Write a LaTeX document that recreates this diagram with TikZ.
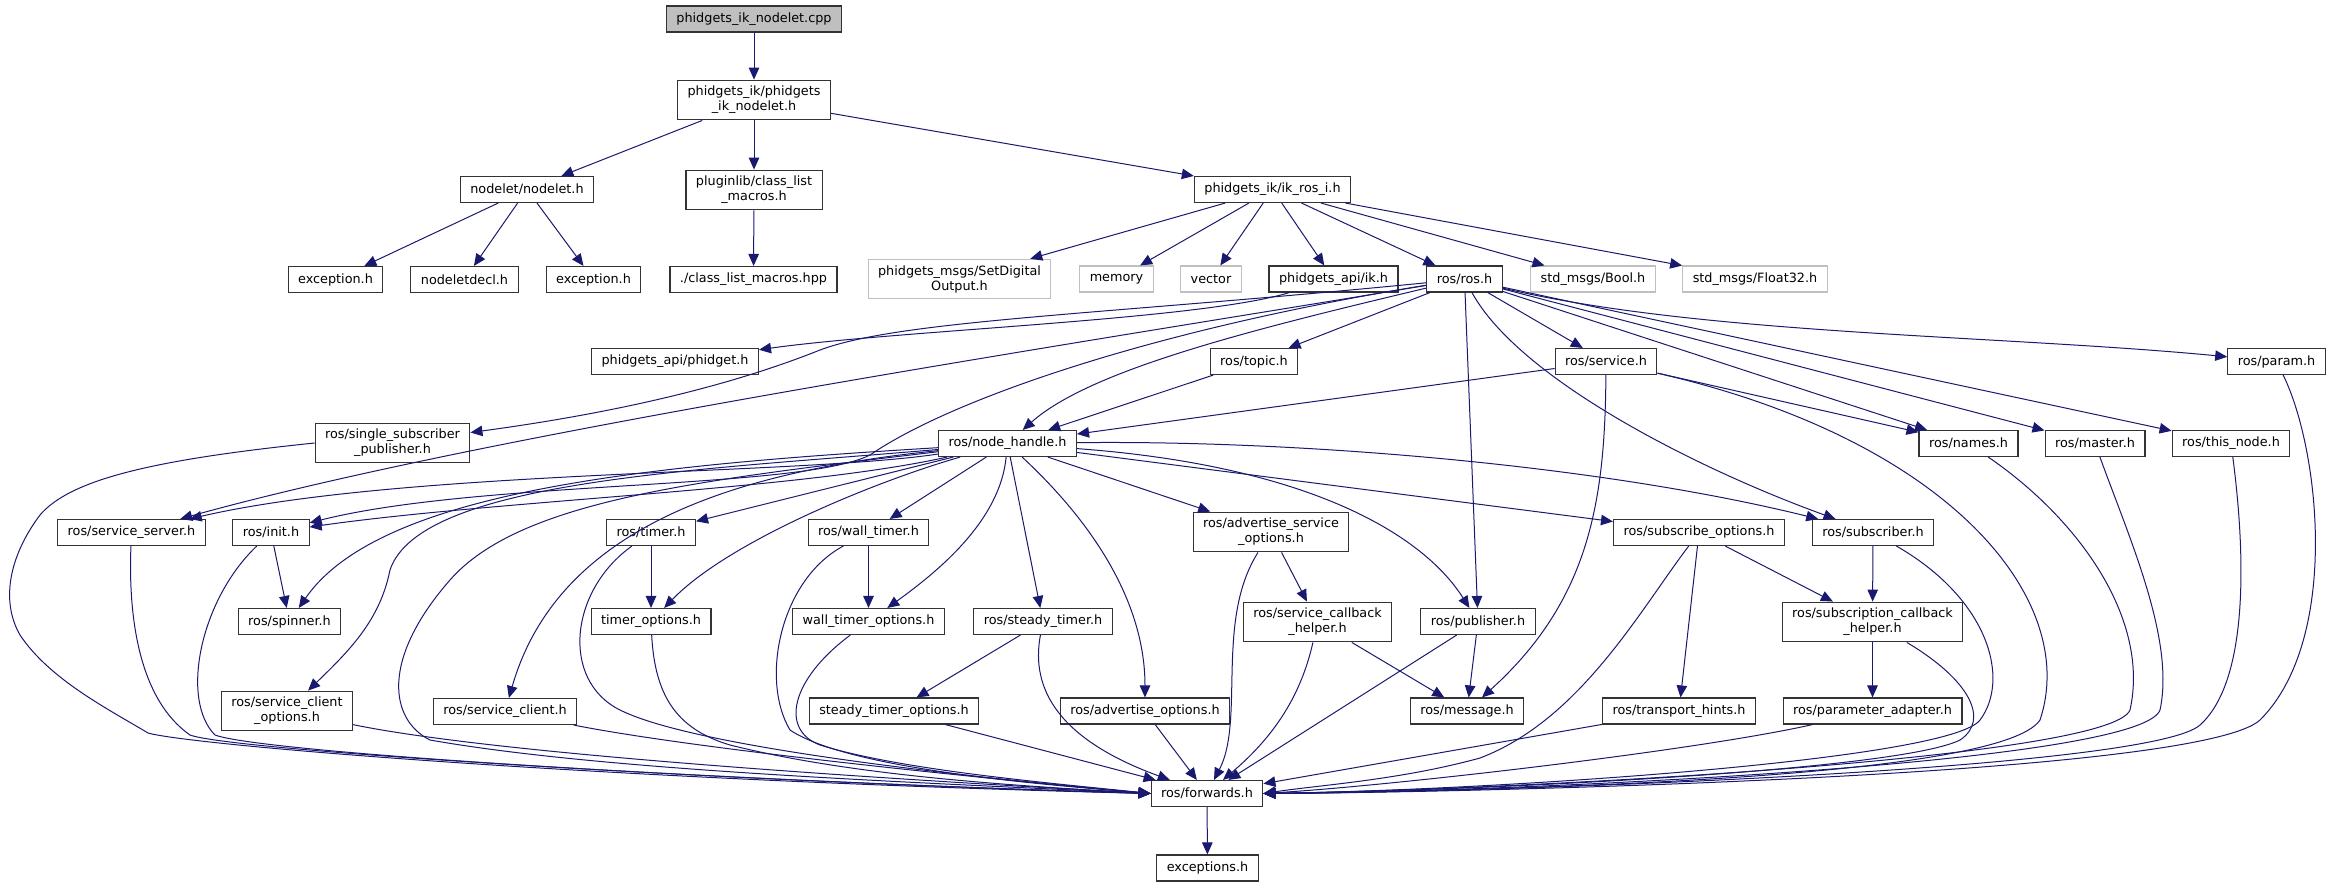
\documentclass[tikz,border=0pt]{standalone}
\usepackage{fontspec}
\setmainfont{DejaVu Sans}
\usepackage{tikz}
\usetikzlibrary{shapes,arrows.meta,positioning}
\definecolor{edgeblue}{HTML}{191970}
\definecolor{extgray}{HTML}{BFBFBF}
\newcommand{\hdrfont}{\fontsize{12.8}{15}\selectfont}
\tikzstyle{hdr}=[draw=black!80,line width=1.1pt,fill=white,font=\hdrfont,minimum height=26pt,inner xsep=10pt,inner ysep=6pt,align=center]
\tikzstyle{ext}=[hdr,draw=extgray]
\tikzstyle{root}=[hdr,fill=extgray]
\tikzstyle{inc}=[->,draw=edgeblue,line width=1pt]

\begin{document}
\begin{tikzpicture}[x=1pt,y=-1pt,>={Triangle[length=12pt,width=10.5pt]}]
  \useasboundingbox (0,0) rectangle (2335,887);

  \node[root] (F-cpp) at (754,19) {phidgets\_ik\_nodelet.cpp};
  \foreach \name/\lbl/\x/\y in {
      nodeleth/{phidgets\_ik/phidgets\\\_ik\_nodelet.h}/754/100,
      nodelet/{nodelet/nodelet.h}/527/189.5,
      pluginlib/{pluginlib/class\_list\\\_macros.h}/754/190,
      ikros/{phidgets\_ik/ik\_ros\_i.h}/1272.5/189.5,
      exca/{exception.h}/335.5/279.5,
      decl/{nodeletdecl.h}/464.5/279.5,
      excb/{exception.h}/593.5/279.5,
      macros/{./class\_list\_macros.hpp}/753.5/279.5,
      ik/{phidgets\_api/ik.h}/1333.5/279,
      ros/{ros/ros.h}/1464.5/279,
      phidget/{phidgets\_api/phidget.h}/675/361.5,
      topic/{ros/topic.h}/1254/361.5,
      service/{ros/service.h}/1606/361.5,
      param/{ros/param.h}/2276.5/361.5,
      ssp/{ros/single\_subscriber\\\_publisher.h}/392.5/443,
      nh/{ros/node\_handle.h}/1007.5/443.5,
      names/{ros/names.h}/1968.5/443.5,
      master/{ros/master.h}/2095/443.5,
      thisnode/{ros/this\_node.h}/2231/443.5,
      sserver/{ros/service\_server.h}/131.5/532.5,
      init/{ros/init.h}/271/532.5,
      timer/{ros/timer.h}/651/532.5,
      wtimer/{ros/wall\_timer.h}/868.5/532.5,
      aso/{ros/advertise\_service\\\_options.h}/1271/532,
      subopt/{ros/subscribe\_options.h}/1699/532.5,
      subscriber/{ros/subscriber.h}/1873/532.5,
      spinner/{ros/spinner.h}/289.5/621.5,
      topt/{timer\_options.h}/651/621.5,
      wtopt/{wall\_timer\_options.h}/868.5/621.5,
      stimer/{ros/steady\_timer.h}/1043/621.5,
      sch/{ros/service\_callback\\\_helper.h}/1317.5/622,
      publisher/{ros/publisher.h}/1478/621.5,
      subcb/{ros/subscription\_callback\\\_helper.h}/1872.5/622,
      sco/{ros/service\_client\\\_options.h}/287/711,
      sclient/{ros/service\_client.h}/505/711.5,
      stopt/{steady\_timer\_options.h}/894/711,
      advopt/{ros/advertise\_options.h}/1145/711,
      message/{ros/message.h}/1467/711,
      thints/{ros/transport\_hints.h}/1679/711,
      padapt/{ros/parameter\_adapter.h}/1872.5/711,
      fwd/{ros/forwards.h}/1207/793.5,
      exceptions/{exceptions.h}/1207.5/868}
    \node[hdr] (F-\name) at (\x,\y) {\lbl};
  \foreach \name/\lbl/\x/\y in {
      setdig/{phidgets\_msgs/SetDigital\\Output.h}/959.5/279,
      memory/{memory}/1116.5/279,
      vector/{vector}/1211/279,
      bool/{std\_msgs/Bool.h}/1593/279,
      float/{std\_msgs/Float32.h}/1755/279}
    \node[ext] (F-\name) at (\x,\y) {\lbl};

  \draw[inc] (F-cpp) -- (F-nodeleth);
  \draw[inc] (F-nodeleth) -- (F-nodelet);
  \draw[inc] (F-nodeleth) -- (F-pluginlib);
  \draw[inc] (F-nodeleth) -- (F-ikros);
  \draw[inc] (F-nodelet) -- (F-exca);
  \draw[inc] (F-nodelet) -- (F-decl);
  \draw[inc] (F-nodelet) -- (F-excb);
  \draw[inc] (F-pluginlib) -- (F-macros);
  \foreach \t in {setdig,memory,vector,ik,ros,bool,float}
    \draw[inc] (F-ikros) -- (F-\t);
  \draw[inc] (F-ik) .. controls (1200,320) and (900,330) .. (F-phidget);

  \draw[inc] (F-ros) .. controls (1100,315) and (900,320) .. (820,350) .. controls (720,390) and (600,415) .. (F-ssp);
  \draw[inc] (F-ros) .. controls (1100,340) and (500,430) .. (F-sserver);
  \draw[inc] (F-ros) .. controls (1150,330) and (950,400) .. (870,455) .. controls (800,490) and (480,480) .. (F-init);
  \draw[inc] (F-ros) .. controls (1250,330) and (1090,370) .. (F-nh);
  \draw[inc] (F-ros) -- (F-topic);
  \draw[inc] (F-ros) -- (F-service);
  \draw[inc] (F-ros) -- (F-publisher);
  \draw[inc] (F-ros) .. controls (1520,380) and (1700,470) .. (F-subscriber);
  \draw[inc] (F-ros) -- (F-names);
  \draw[inc] (F-ros) -- (F-master);
  \draw[inc] (F-ros) -- (F-thisnode);
  \draw[inc] (F-ros) .. controls (1700,335) and (2000,335) .. (F-param);
  \draw[inc] (F-topic) -- (F-nh);
  \draw[inc] (F-service) -- (F-nh);
  \draw[inc] (F-service) -- (F-names);
  \draw[inc] (F-service) .. controls (1605,500) and (1590,600) .. (F-message);

  \draw[inc] (F-nh) .. controls (800,475) and (400,470) .. (F-sserver);
  \draw[inc] (F-nh) .. controls (800,490) and (500,500) .. (F-init);
  \draw[inc] (F-nh) .. controls (650,465) and (380,490) .. (F-spinner);
  \draw[inc] (F-nh) .. controls (700,470) and (420,480) .. (390,570) .. controls (380,620) and (350,650) .. (F-sco);
  \draw[inc] (F-nh) .. controls (750,470) and (560,520) .. (F-sclient);
  \draw[inc] (F-nh) -- (F-timer);
  \draw[inc] (F-nh) .. controls (880,480) and (730,540) .. (F-topt);
  \draw[inc] (F-nh) -- (F-wtimer);
  \draw[inc] (F-nh) .. controls (1000,520) and (940,570) .. (F-wtopt);
  \draw[inc] (F-nh) -- (F-stimer);
  \draw[inc] (F-nh) .. controls (1090,520) and (1145,600) .. (F-advopt);
  \draw[inc] (F-nh) -- (F-aso);
  \draw[inc] (F-nh) .. controls (1300,465) and (1420,530) .. (F-publisher);
  \draw[inc] (F-nh) -- (F-subopt);
  \draw[inc] (F-nh) .. controls (1300,440) and (1600,465) .. (F-subscriber);

  \draw[inc] (F-init) -- (F-spinner);
  \draw[inc] (F-timer) -- (F-topt);
  \draw[inc] (F-wtimer) -- (F-wtopt);
  \draw[inc] (F-stimer) -- (F-stopt);
  \draw[inc] (F-aso) -- (F-sch);
  \draw[inc] (F-sch) -- (F-message);
  \draw[inc] (F-publisher) -- (F-message);
  \draw[inc] (F-subopt) -- (F-thints);
  \draw[inc] (F-subopt) -- (F-subcb);
  \draw[inc] (F-subscriber) -- (F-subcb);
  \draw[inc] (F-subcb) -- (F-padapt);

  \draw[inc] (F-ssp.west) .. controls (150,460) and (70,480) .. (40,515) .. controls (10,555) and (0,600) .. (20,635) .. controls (50,680) and (110,710) .. (148,733) .. controls (190,745) and (600,780) .. (F-fwd.west);
  \draw[inc] (F-sserver) .. controls (128,620) and (140,700) .. (190,735) .. controls (230,750) and (700,780) .. (F-fwd.west);
  \draw[inc] (F-init) .. controls (200,600) and (180,700) .. (215,735) .. controls (260,752) and (700,780) .. (F-fwd.west);
  \draw[inc] (F-sco) .. controls (500,755) and (900,780) .. (F-fwd.west);
  \draw[inc] (F-nh) .. controls (700,480) and (520,500) .. (450,580) .. controls (380,660) and (390,720) .. (430,740) .. controls (600,770) and (900,782) .. (F-fwd.west);
  \draw[inc] (F-sclient) .. controls (700,750) and (1000,780) .. (F-fwd.west);
  \draw[inc] (F-timer) .. controls (570,590) and (560,680) .. (620,710) .. controls (700,750) and (1000,780) .. (F-fwd.west);
  \draw[inc] (F-topt) .. controls (655,700) and (680,730) .. (730,745) .. controls (850,775) and (1000,785) .. (F-fwd.west);
  \draw[inc] (F-wtimer) .. controls (780,580) and (760,680) .. (790,730) .. controls (850,770) and (1050,785) .. (F-fwd.west);
  \draw[inc] (F-wtopt) .. controls (790,680) and (780,730) .. (820,745) .. controls (900,770) and (1050,783) .. (F-fwd.west);
  \draw[inc] (F-stopt) -- (F-fwd);
  \draw[inc] (F-stimer) .. controls (1030,690) and (1060,740) .. (F-fwd);
  \draw[inc] (F-advopt) -- (F-fwd);
  \draw[inc] (F-aso) .. controls (1215,620) and (1245,720) .. (F-fwd);
  \draw[inc] (F-sch) .. controls (1300,700) and (1270,740) .. (F-fwd);
  \draw[inc] (F-publisher) -- (F-fwd);
  \draw[inc] (F-subopt) .. controls (1640,610) and (1580,720) .. (1480,758) .. controls (1400,780) and (1320,785) .. (F-fwd.east);
  \draw[inc] (F-thints) -- (F-fwd);
  \draw[inc] (F-padapt) .. controls (1700,750) and (1400,785) .. (F-fwd.east);
  \draw[inc] (F-subcb) .. controls (1970,680) and (1990,720) .. (1960,740) .. controls (1900,770) and (1500,790) .. (F-fwd.east);
  \draw[inc] (F-subscriber) .. controls (1990,600) and (2010,680) .. (1980,720) .. controls (1950,760) and (1500,790) .. (F-fwd.east);
  \draw[inc] (F-service) .. controls (1950,440) and (2080,600) .. (2040,720) .. controls (2000,780) and (1500,790) .. (F-fwd.east);
  \draw[inc] (F-names) .. controls (2080,520) and (2150,620) .. (2130,710) .. controls (2110,760) and (1500,790) .. (F-fwd.east);
  \draw[inc] (F-master) .. controls (2130,540) and (2175,640) .. (2160,710) .. controls (2140,765) and (1500,792) .. (F-fwd.east);
  \draw[inc] (F-thisnode) .. controls (2245,550) and (2250,680) .. (2200,725) .. controls (2150,770) and (1500,792) .. (F-fwd.east);
  \draw[inc] (F-param) .. controls (2320,450) and (2340,640) .. (2260,720) .. controls (2200,775) and (1500,792) .. (F-fwd.east);
  \draw[inc] (F-fwd) -- (F-exceptions);

\end{tikzpicture}
\end{document}
